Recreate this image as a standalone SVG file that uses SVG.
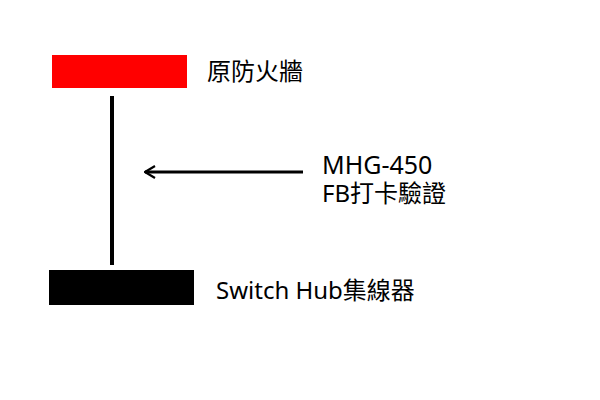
<svg xmlns="http://www.w3.org/2000/svg" width="600" height="400" viewBox="0 0 600 400">
<style>
text{font-family:"Noto Sans","Noto Sans CJK TC",sans-serif;font-size:24px;fill:#000}
.conn{stroke:#000;fill:none}
</style>
<defs>
<marker id="chev" viewBox="0 0 12 14" refX="11" refY="7" markerWidth="12" markerHeight="14" markerUnits="userSpaceOnUse" orient="auto">
<path d="M1,1 L11,7 L1,13" fill="none" stroke="#000" stroke-width="2.2"/>
</marker>
</defs>
<rect width="600" height="400" fill="#fff"/>
<g id="firewall">
<rect x="52" y="55" width="135" height="33" fill="#ff0000"/>
<text x="207" y="80">原防火牆</text>
</g>
<g id="switch">
<rect x="49" y="270" width="145" height="35" fill="#000"/>
<text x="216" y="299">Switch Hub集線器</text>
</g>
<g id="mhg">
<text x="322" y="174" style="font-size:25px">MHG-450</text>
<text x="322" y="202">FB打卡驗證</text>
</g>
<g id="connectors">
<line class="conn" x1="112" y1="96" x2="112" y2="265" stroke-width="4"/>
<line class="conn" x1="303" y1="172" x2="145" y2="172" stroke-width="3" marker-end="url(#chev)"/>
</g>
</svg>
